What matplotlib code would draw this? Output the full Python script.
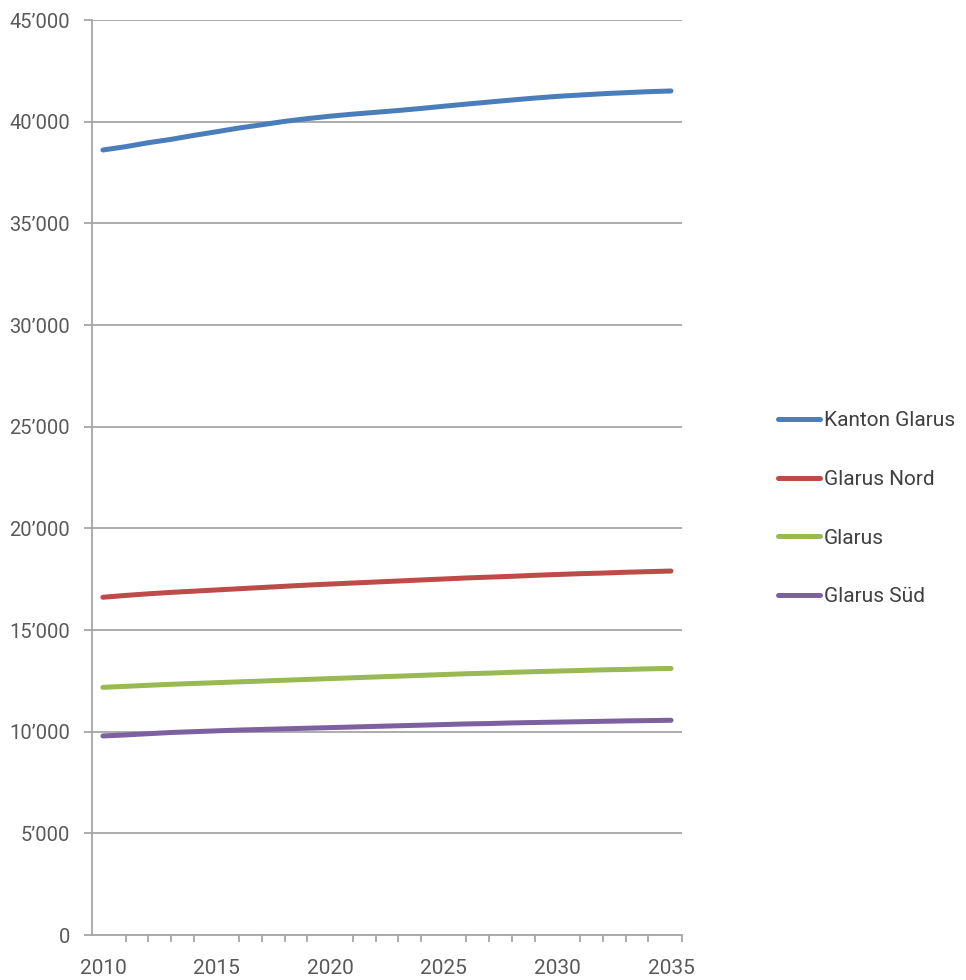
import matplotlib
matplotlib.use("Agg")
import matplotlib.pyplot as plt
from matplotlib.ticker import FixedLocator, FuncFormatter
from matplotlib import font_manager

years = list(range(2010, 2036))

kanton_glarus = [38606, 38770, 38965, 39130, 39325, 39505, 39690, 39850, 40015, 40150,
                 40270, 40370, 40460, 40550, 40650, 40760, 40865, 40965, 41065, 41160,
                 41245, 41310, 41375, 41425, 41475, 41510]
glarus_nord = [16610, 16700, 16780, 16850, 16910, 16970, 17030, 17090, 17150, 17210,
               17260, 17310, 17360, 17410, 17460, 17510, 17560, 17600, 17640, 17690,
               17730, 17770, 17800, 17840, 17870, 17900]
glarus = [12180, 12230, 12280, 12330, 12370, 12410, 12450, 12490, 12530, 12570,
          12610, 12650, 12690, 12730, 12770, 12810, 12850, 12880, 12920, 12950,
          12980, 13010, 13040, 13060, 13090, 13110]
glarus_sued = [9790, 9840, 9900, 9960, 10000, 10040, 10080, 10110, 10140, 10170,
               10200, 10230, 10260, 10290, 10320, 10350, 10380, 10400, 10430, 10450,
               10470, 10490, 10510, 10530, 10545, 10560]

series_names = ["Kanton Glarus", "Glarus Nord", "Glarus", "Glarus Süd"]
series_colors = ["#4A7EBB", "#BE4B48", "#98B954", "#7D60A0"]
y_ticks = list(range(0, 45001, 5000))
x_label_years = [2010, 2015, 2020, 2025, 2030, 2035]

installed = {f.name for f in font_manager.fontManager.ttflist}
family = [f for f in ["Liberation Sans Narrow", "Roboto", "DejaVu Sans"] if f in installed]
plt.rcParams["font.family"] = family

text_color = "#595959"
grid_color = "#A6A6A6"

fig = plt.figure(figsize=(9.66, 9.80), dpi=100)
ax = fig.add_axes([92 / 966, 1 - 935 / 980, (681.7 - 92) / 966, (935 - 20) / 980])

for vals, name, col in zip([kanton_glarus, glarus_nord, glarus, glarus_sued],
                           series_names, series_colors):
    ax.plot(years, vals, color=col, lw=3.6, solid_capstyle="round", label=name, zorder=3)

ax.set_xlim(2009.52, 2035.47)
ax.set_ylim(0, 45000)

ax.yaxis.set_major_locator(FixedLocator(y_ticks))
ax.yaxis.set_major_formatter(FuncFormatter(
    lambda v, p: "0" if v == 0 else f"{int(v) // 1000}\u2019{int(v) % 1000:03d}"))
ax.grid(axis="y", color=grid_color, lw=1.3, zorder=1)
ax.set_axisbelow(True)

ax.xaxis.set_major_locator(FixedLocator(x_label_years))
ax.xaxis.set_minor_locator(FixedLocator(years + [2035.47]))
ax.tick_params(axis="x", which="major", length=0, pad=17, labelsize=15, labelcolor=text_color)
ax.tick_params(axis="x", which="minor", length=5, width=1.3, color=grid_color, direction="out")
ax.tick_params(axis="y", length=6, width=1.3, color=grid_color, pad=10,
               labelsize=14.5, labelcolor=text_color)

for s in ["top", "right"]:
    ax.spines[s].set_visible(False)
for s in ["left", "bottom"]:
    ax.spines[s].set_color(grid_color)
    ax.spines[s].set_linewidth(1.3)

leg = fig.legend(loc="upper left", bbox_to_anchor=(770 / 966, 1 - 403 / 980),
                 frameon=False, fontsize=15, handlelength=2.0, handletextpad=0.2,
                 labelspacing=1.9, borderaxespad=0)
for t in leg.get_texts():
    t.set_color("#404040")

fig.savefig("out.png", dpi=100)
